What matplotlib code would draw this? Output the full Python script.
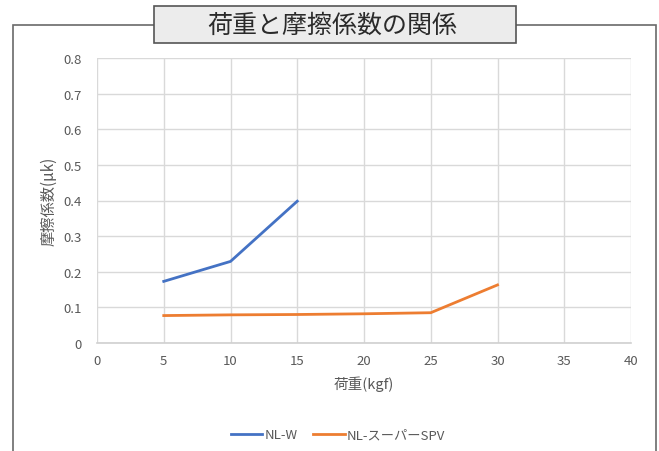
import matplotlib
matplotlib.use("Agg")
import matplotlib.pyplot as plt
from matplotlib.patches import Rectangle

plt.rcParams['font.family'] = ['Noto Sans CJK JP', 'DejaVu Sans']

title = "荷重と摩擦係数の関係"
xlabel = "荷重(kgf)"
ylabel = "摩擦係数(μk)"

nlw_name = "NL-W"
nlw_x = [5, 10, 15]
nlw_y = [0.173, 0.229, 0.398]

spv_name = "NL-スーパーSPV"
spv_x = [5, 10, 15, 20, 25, 30]
spv_y = [0.077, 0.079, 0.080, 0.082, 0.085, 0.163]

xticks = [0, 5, 10, 15, 20, 25, 30, 35, 40]
yticks = [0, 0.1, 0.2, 0.3, 0.4, 0.5, 0.6, 0.7, 0.8]
ytick_labels = ["0", "0.1", "0.2", "0.3", "0.4", "0.5", "0.6", "0.7", "0.8"]

W, H = 659, 452
fig = plt.figure(figsize=(W / 100, H / 100), dpi=100)

def fx(x):
    return x / W

def fy(y):
    return 1 - y / H

# outer frame
frame = Rectangle((fx(13), fy(470)), fx(656) - fx(13), fy(26) - fy(470),
                  transform=fig.transFigure, fill=False, edgecolor='#6a6a6a',
                  linewidth=1.2, zorder=0)
fig.patches.append(frame)

ax = fig.add_axes([fx(97), fy(344), fx(631) - fx(97), fy(59) - fy(344)])
ax.plot(nlw_x, nlw_y, color='#4472C4', linewidth=2, label=nlw_name)
ax.plot(spv_x, spv_y, color='#ED7D31', linewidth=2, label=spv_name)

ax.set_xlim(0, 40)
ax.set_ylim(0, 0.8)
ax.set_xticks(xticks)
ax.set_yticks(yticks)
ax.set_yticklabels(ytick_labels)
ax.grid(True, color='#d9d9d9', linewidth=1)
ax.set_axisbelow(True)
for s in ['top', 'right', 'left']:
    ax.spines[s].set_visible(False)
ax.spines['bottom'].set_color('#d0d0d0')
ax.spines['bottom'].set_linewidth(1.2)
ax.tick_params(axis='both', length=0, labelsize=9.5, labelcolor='#595959')
ax.tick_params(axis='y', pad=11)
ax.tick_params(axis='x', pad=8)

ax.set_xlabel(xlabel, fontsize=10.5, color='#595959', labelpad=6)
ax.set_ylabel(ylabel, fontsize=11, color='#595959', labelpad=4)

ax.legend(loc='center', bbox_to_anchor=(fx(338), fy(436)),
          bbox_transform=fig.transFigure, ncol=2, frameon=False,
          fontsize=9.5, labelcolor='#595959', handlelength=2.4,
          handletextpad=0.15, columnspacing=1.2)

# title box
tbox = Rectangle((fx(154), fy(44)), fx(516) - fx(154), fy(7) - fy(44),
                 transform=fig.transFigure, facecolor='#ececec',
                 edgecolor='#555555', linewidth=1.2, zorder=5)
fig.patches.append(tbox)
fig.text(fx(332), fy(26), title, ha='center', va='center', fontsize=18,
         color='#2a2a2a', zorder=6)

fig.savefig("out.png", dpi=100)
